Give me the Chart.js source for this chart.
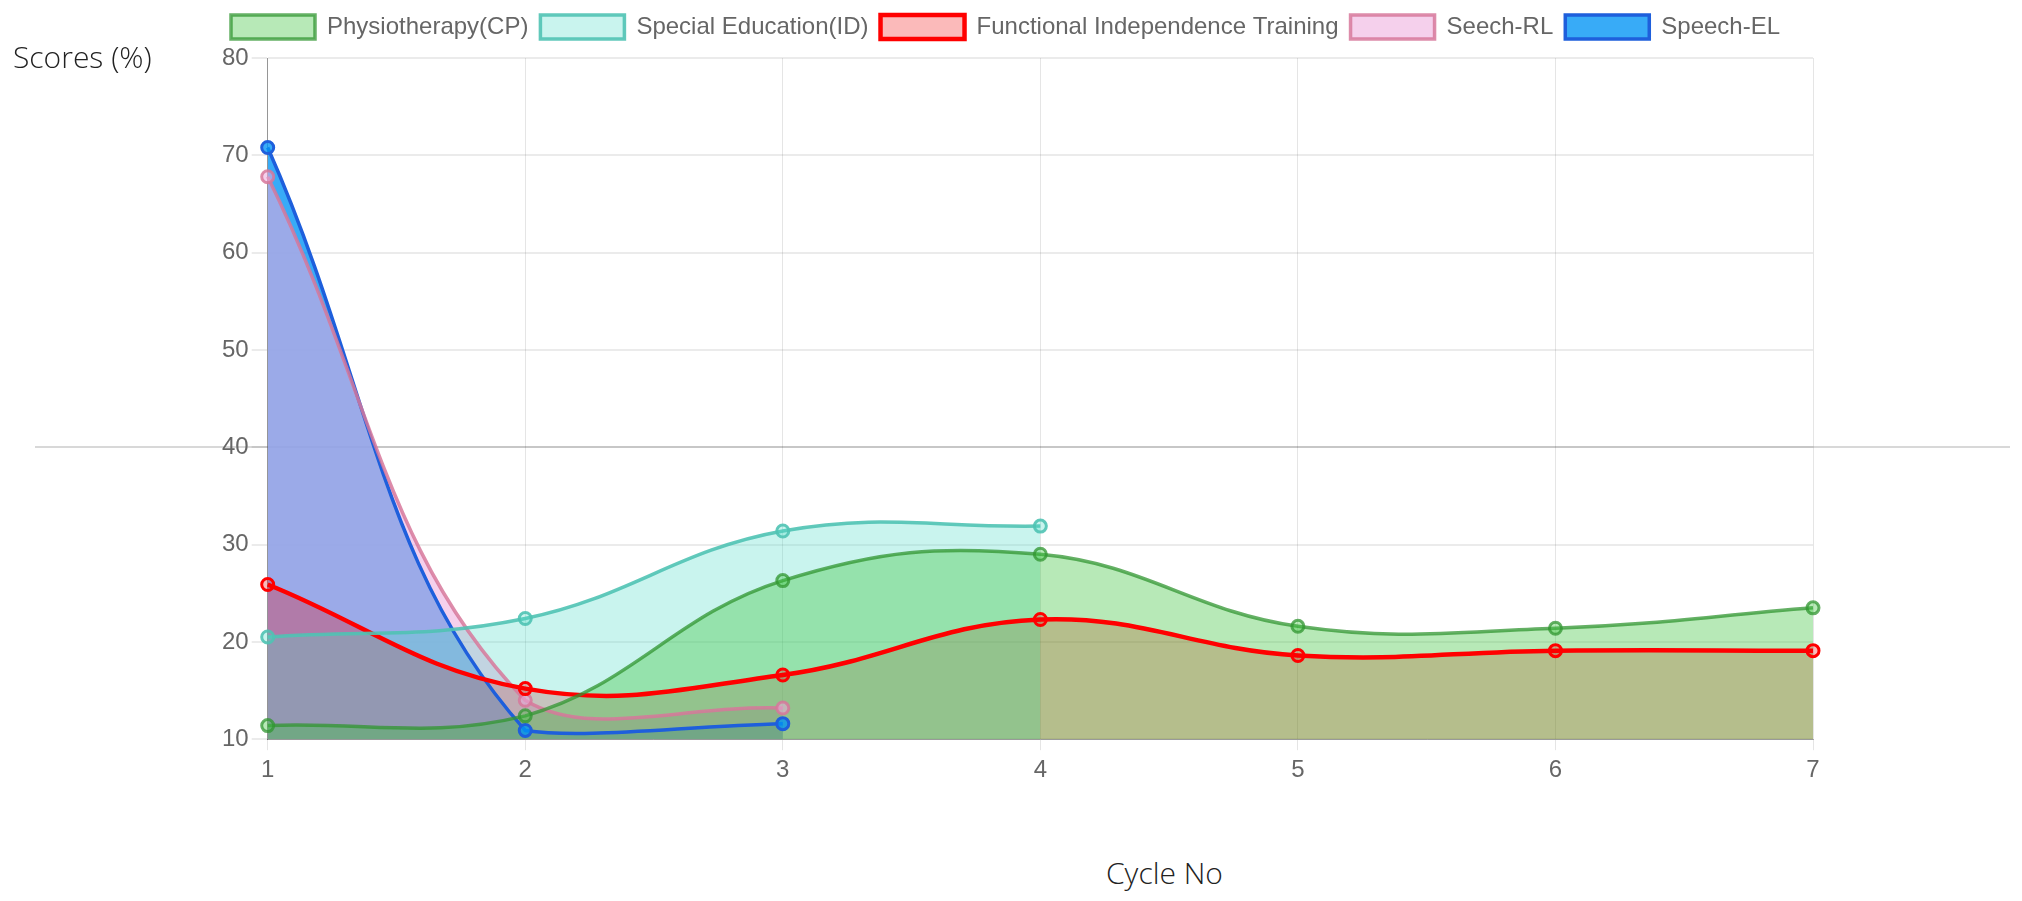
<!DOCTYPE html>
<html>
<head>
<meta charset="utf-8">
<script src="https://cdn.jsdelivr.net/npm/chart.js@4.4.1/dist/chart.umd.min.js"></script>
<style>
  body { margin: 0; background: #fff; width: 2022px; height: 901px; overflow: hidden; position: relative; }
  #midLine { position: absolute; left: 35px; top: 446px; width: 1975px; height: 2px; background: #d8d8d8; }
  #wrap { position: absolute; left: 0; top: 0; width: 2022px; height: 792px; }
  .axisTitle { position: absolute; font-family: "Open Sans", "Noto Sans", sans-serif; font-weight: 300; color: #222; font-size: 30px; white-space: nowrap; }
  #yTitle { left: 13px; top: 36px; }
  #xTitle { left: 1106px; top: 852px; }
</style>
</head>
<body>
<div id="midLine"></div>
<div id="wrap"><canvas id="scoreChart"></canvas></div>
<div class="axisTitle" id="yTitle">Scores (%)</div>
<div class="axisTitle" id="xTitle">Cycle No</div>
<script>
const cycles = ["1", "2", "3", "4", "5", "6", "7"];
const yTicks = [10, 20, 30, 40, 50, 60, 70, 80];

const physio = [11.4, 12.4, 26.3, 29.0, 21.6, 21.4, 23.5];
const specialEd = [20.5, 22.4, 31.4, 31.9];
const functional = [25.9, 15.2, 16.6, 22.3, 18.6, 19.1, 19.1];
const speechRL = [67.8, 14.0, 13.2];
const speechEL = [70.8, 10.9, 11.6];

const tickFont = { family: "'Liberation Sans', Arial, sans-serif", size: 24 };

function series(label, data, line, area, width) {
    return {
        label: label,
        data: data,
        borderColor: line,
        backgroundColor: area,
        borderWidth: width,
        fill: true,
        tension: 0.4,
        pointRadius: 6,
        pointBorderWidth: 3,
        pointHoverRadius: 6
    };
}

// extra room under the legend, like the original page
const legendGap = {
    id: "legendGap",
    beforeInit(chart) {
        const fit = chart.legend.fit;
        chart.legend.fit = function() {
            fit.bind(chart.legend)();
            this.height += 9;
        };
    }
};

const ctx = document.getElementById("scoreChart").getContext("2d");
const chart = new Chart(ctx, {
    type: "line",
    data: {
        labels: cycles,
        datasets: [
            series("Physiotherapy(CP)", physio, "rgba(50,150,50,0.75)", "rgba(60,195,60,0.37)", 3.5),
            series("Special Education(ID)", specialEd, "rgba(80,195,180,0.9)", "rgba(75,220,200,0.3)", 3.5),
            series("Functional Independence Training", functional, "rgb(255,0,0)", "rgba(240,0,0,0.27)", 4.5),
            series("Seech-RL", speechRL, "rgba(215,120,155,0.85)", "rgba(236,170,220,0.55)", 3.5),
            series("Speech-EL", speechEL, "rgb(30,95,220)", "rgba(0,148,245,0.78)", 3.5)
        ]
    },
    plugins: [legendGap],
    options: {
        responsive: true,
        maintainAspectRatio: false,
        animation: false,
        layout: { padding: { left: 219, right: 209, top: 3, bottom: 1 } },
        font: tickFont,
        plugins: {
            filler: { drawTime: "beforeDatasetsDraw" },
            legend: {
                position: "top",
                align: "start",
                labels: {
                    color: "#666",
                    boxWidth: 84,
                    boxHeight: 24,
                    padding: 12,
                    font: tickFont
                }
            },
            tooltip: { enabled: false }
        },
        scales: {
            x: {
                grid: { color: "rgba(0,0,0,0.1)", lineWidth: 1, tickLength: 11 },
                border: { color: "rgba(0,0,0,0.35)" },
                ticks: { color: "#666", padding: 6, font: tickFont }
            },
            y: {
                min: yTicks[0],
                max: yTicks[yTicks.length - 1],
                afterBuildTicks: function(axis) { axis.ticks = yTicks.map(v => ({ value: v })); },
                grid: { color: "rgba(0,0,0,0.08)", lineWidth: 2, tickLength: 16 },
                border: { color: "rgba(0,0,0,0.35)" },
                ticks: { color: "#666", padding: 3, font: tickFont }
            }
        }
    }
});
</script>
</body>
</html>
